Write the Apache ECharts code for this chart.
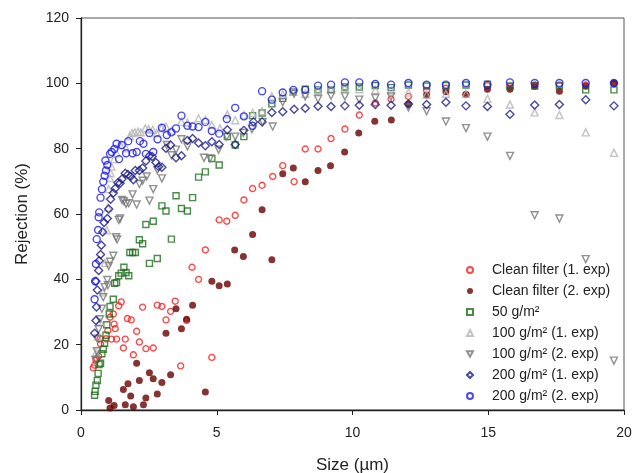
<!DOCTYPE html>
<html>
<head>
	<meta charset="utf-8">
	<script src="https://cdn.jsdelivr.net/npm/echarts@6/dist/echarts.min.js"></script>
	<title>Rejection</title>
	<style>
		html, body { margin: 0; padding: 0; background: #fff; }
		#c { width: 633px; height: 473px; }
	</style>
</head>
<body>
	<div id="c"></div>
	<script>
		// [size (um), rejection (%)]
		var cleanFilter1 = [[0.45,12.9],[0.50,13.7],[0.55,15.3],[0.58,15.8],[0.65,16.5],[0.70,21.8],[0.72,20.2],[0.92,21.8],[0.99,24.3],[1.07,28.4],[1.12,21.7],[1.19,29.4],[1.22,26.3],[1.26,24.9],[1.31,21.7],[1.39,31.9],[1.48,33.1],[1.56,19.0],[1.63,21.7],[1.71,28.0],[1.85,27.6],[1.93,16.9],[2.05,24.1],[2.15,20.8],[2.27,31.5],[2.39,18.8],[2.66,19.0],[2.81,32.1],[2.98,31.7],[3.13,27.6],[3.30,30.2],[3.47,33.3],[3.67,13.5],[3.89,27.4],[4.09,43.7],[4.33,40.0],[4.58,49.0],[4.82,16.1],[5.09,58.2],[5.37,57.8],[5.68,59.6],[6.00,64.3],[6.32,67.8],[6.67,68.8],[7.06,71.5],[7.43,74.8],[7.85,69.9],[8.26,79.9],[8.73,79.9],[9.21,83.1],[9.72,86.0],[10.25,90.3],[10.84,94.0],[11.42,95.2],[12.06,96.0],[12.73,97.8],[13.44,98.5],[14.18,96.6],[14.97,99.3],[15.80,99.0],[16.71,99.5],[17.62,99.5],[18.59,99.5],[19.63,99.8]];
		var cleanFilter2 = [[1.02,2.9],[1.07,0.6],[1.22,1.4],[1.56,6.3],[1.63,1.6],[1.73,8.0],[1.83,4.3],[1.93,1.0],[2.05,14.3],[2.15,9.0],[2.30,1.6],[2.39,3.7],[2.52,11.4],[2.66,9.6],[2.81,4.9],[2.98,8.4],[3.13,23.5],[3.30,10.8],[3.50,31.0],[3.70,24.9],[3.89,27.8],[4.11,32.1],[4.58,5.5],[4.82,39.4],[5.09,38.0],[5.39,38.6],[5.66,49.0],[5.98,47.0],[6.32,53.7],[6.67,61.3],[7.03,46.0],[7.43,72.3],[7.82,74.1],[8.26,69.9],[8.73,73.3],[9.19,74.8],[9.71,79.0],[10.23,84.8],[10.82,88.4],[11.43,88.8],[12.06,93.7],[12.73,96.4],[13.44,97.4],[14.18,96.6],[14.97,98.2],[15.80,98.2],[16.71,99.1],[17.62,97.6],[18.59,99.1],[19.63,100.1]];
		var load50 = [[0.50,4.5],[0.52,5.7],[0.55,7.6],[0.60,9.0],[0.63,11.2],[0.67,13.9],[0.72,14.3],[0.77,17.2],[0.82,18.6],[0.87,20.4],[0.92,22.9],[0.95,26.1],[1.04,29.4],[1.07,31.7],[1.19,33.9],[1.24,38.8],[1.31,39.0],[1.39,41.1],[1.48,41.9],[1.58,43.7],[1.66,42.1],[1.76,41.1],[1.80,48.2],[1.90,48.2],[2.00,48.2],[2.15,52.1],[2.27,50.9],[2.39,56.8],[2.52,44.9],[2.66,57.8],[2.81,46.4],[2.98,62.5],[3.13,60.9],[3.33,52.3],[3.50,65.6],[3.70,61.7],[3.92,60.9],[4.11,65.0],[4.33,71.3],[4.58,72.9],[4.82,77.0],[5.09,75.0],[5.39,83.7],[5.68,81.1],[6.00,83.7],[6.32,90.1],[6.67,90.9],[7.03,93.7],[7.43,95.4],[7.82,97.4],[8.26,98.2],[8.73,98.0],[9.21,98.0],[9.72,98.9],[10.25,98.9],[10.84,99.3],[11.42,98.7],[12.06,99.5],[12.73,99.2],[13.44,99.3],[14.18,99.5],[14.97,99.7],[15.80,99.2],[16.71,99.2],[17.62,99.2],[18.59,98.0],[19.63,98.0]];
		var load100a = [[0.55,17.5],[0.62,22.5],[0.70,27.0],[0.80,36.0],[0.88,45.0],[0.95,55.0],[0.99,62.0],[1.02,67.6],[1.07,71.0],[1.09,72.5],[1.12,74.5],[1.22,76.8],[1.31,78.6],[1.46,81.1],[1.66,80.1],[1.80,83.9],[1.88,84.8],[1.98,85.0],[2.10,85.2],[2.20,85.0],[2.37,86.2],[2.49,86.0],[2.64,85.8],[2.79,84.8],[2.96,86.2],[3.13,86.8],[3.33,85.5],[3.70,88.2],[3.92,88.0],[4.33,89.3],[4.58,88.8],[4.82,87.2],[5.12,86.2],[5.39,90.5],[5.68,88.7],[6.00,90.3],[6.32,90.9],[6.67,91.5],[7.03,96.0],[7.43,96.6],[7.82,97.4],[8.26,96.8],[8.73,97.6],[9.21,98.0],[9.72,98.5],[10.25,98.2],[10.84,98.0],[11.42,97.8],[12.06,97.2],[12.73,96.5],[13.44,96.8],[14.18,96.8],[14.97,95.3],[15.80,93.5],[16.71,91.1],[17.62,90.3],[18.59,85.0],[19.63,78.7]];
		var load100b = [[0.53,15.3],[0.58,18.0],[0.60,21.8],[0.65,24.7],[0.70,27.8],[0.77,31.0],[0.82,34.5],[0.87,37.6],[0.97,39.8],[0.99,38.2],[1.02,44.1],[1.07,45.4],[1.19,47.2],[1.29,52.9],[1.33,52.2],[1.39,58.2],[1.44,58.6],[1.51,64.3],[1.58,63.9],[1.66,63.1],[1.76,63.3],[1.90,66.0],[2.05,62.9],[2.15,69.2],[2.27,70.2],[2.42,71.5],[2.52,64.1],[2.66,67.6],[2.81,73.5],[2.98,70.9],[3.16,81.1],[3.33,78.0],[3.50,79.7],[3.70,82.9],[3.92,80.7],[4.53,77.2],[4.75,77.0],[5.07,79.7],[5.37,83.7],[5.68,83.7],[5.98,84.8],[6.30,86.0],[6.69,88.2],[7.06,86.8],[7.43,94.2],[7.85,96.8],[8.26,96.0],[8.73,95.2],[9.21,96.2],[9.72,96.0],[10.25,95.0],[10.84,95.5],[11.42,96.0],[12.06,92.6],[12.73,91.5],[13.44,88.3],[14.18,86.3],[14.97,83.7],[15.80,77.8],[16.71,59.6],[17.62,58.6],[18.59,46.2],[19.63,15.1]];
		var load200a = [[0.50,23.5],[0.55,27.4],[0.57,31.5],[0.60,36.7],[0.55,39.4],[0.65,42.7],[0.67,45.7],[0.72,47.6],[0.75,50.4],[0.80,54.5],[0.85,57.4],[0.97,58.6],[1.02,61.5],[1.09,64.5],[1.19,66.4],[1.26,67.8],[1.36,69.6],[1.44,69.4],[1.51,70.7],[1.63,72.5],[1.73,72.1],[1.83,71.5],[1.93,70.5],[2.00,73.3],[2.15,73.3],[2.27,74.1],[2.39,76.2],[2.52,77.8],[2.62,77.6],[2.76,75.8],[2.86,74.5],[2.98,74.3],[3.13,80.1],[3.30,81.1],[3.50,77.2],[3.70,77.8],[3.92,82.5],[4.11,83.1],[4.33,81.7],[4.58,80.9],[4.82,82.1],[5.09,81.3],[5.39,85.8],[5.68,81.3],[6.00,85.6],[6.35,88.2],[6.67,88.2],[7.03,91.1],[7.43,91.3],[7.85,92.1],[8.26,92.4],[8.73,93.0],[9.21,92.9],[9.72,93.1],[10.25,93.3],[10.84,93.5],[11.42,93.3],[12.06,93.7],[12.73,93.5],[13.44,94.2],[14.18,93.1],[14.97,92.9],[15.80,90.5],[16.71,93.4],[17.62,93.5],[18.59,95.0],[19.63,93.1]];
		var load200b = [[0.50,33.9],[0.52,39.4],[0.55,44.7],[0.58,52.3],[0.63,55.1],[0.65,59.0],[0.67,60.5],[0.72,65.0],[0.77,67.6],[0.82,69.9],[0.87,71.7],[0.92,73.3],[0.90,76.4],[0.97,75.0],[1.07,78.4],[1.13,79.0],[1.23,79.9],[1.31,81.5],[1.40,76.8],[1.50,81.1],[1.66,78.6],[1.74,82.3],[1.90,78.6],[2.05,79.0],[2.17,82.3],[2.30,81.5],[2.39,78.4],[2.52,84.8],[2.66,79.0],[2.82,82.9],[2.98,86.4],[3.16,84.2],[3.33,85.0],[3.50,86.2],[3.70,90.1],[3.92,87.0],[4.11,86.8],[4.33,86.6],[4.58,88.2],[4.82,85.4],[5.09,84.6],[5.37,89.1],[5.68,92.5],[6.00,89.9],[6.32,87.0],[6.67,97.6],[7.03,95.0],[7.43,97.2],[7.82,98.0],[8.26,98.0],[8.73,99.3],[9.21,99.6],[9.72,100.3],[10.25,100.3],[10.84,99.8],[11.42,99.6],[12.06,100.1],[12.73,99.6],[13.44,99.6],[14.18,100.1],[14.97,99.6],[15.80,100.3],[16.71,100.1],[17.62,100.1],[18.59,100.1],[19.63,100.1]];

		var names = ['Clean filter (1. exp)', 'Clean filter (2. exp)', '50 g/m²', '100 g/m² (1. exp)', '100 g/m² (2. exp)', '200 g/m² (1. exp)', '200 g/m² (2. exp)'];
		var xTicks = [0, 5, 10, 15, 20];
		var yTicks = [0, 20, 40, 60, 80, 100, 120];

		var downTriangle = 'path://M0,0 L10,0 L5,9 Z';

		function open(name, data, color, symbol, size) {
			return {
				name: name, type: 'scatter', data: data,
				symbol: symbol, symbolSize: size,
				itemStyle: { color: 'rgba(255,255,255,0)', borderColor: color, borderWidth: 1.4 },
				emphasis: { disabled: true }
			};
		}

		var series = [
			open(names[0], cleanFilter1, '#ff1a1a', 'circle', 6),
			{ name: names[1], type: 'scatter', data: cleanFilter2, symbol: 'circle', symbolSize: 7,
			  itemStyle: { color: '#680000' }, emphasis: { disabled: true } },
			open(names[2], load50, '#1b6e1b', 'rect', 6),
			open(names[3], load100a, '#b4b4b4', 'triangle', 7),
			open(names[4], load100b, '#757575', downTriangle, 7),
			open(names[5], load200a, '#1c1c84', 'diamond', 8),
			open(names[6], load200b, '#1a1aee', 'circle', 7)
		];

		var chart = echarts.init(document.getElementById('c'));
		chart.setOption({
			animation: false,
			textStyle: { fontFamily: 'Liberation Sans' },
			grid: { left: 81, right: 9, top: 18, bottom: 63, show: true, borderColor: '#555', borderWidth: 1,
				outerBoundsMode: 'none', containLabel: false },
			legend: {
				data: names, orient: 'vertical', left: 461, top: 258,
				itemWidth: 6, itemHeight: 6, itemGap: 7,
				textStyle: { fontSize: 14, color: '#222', fontFamily: 'Liberation Sans', padding: [0, 0, 0, 14] }
			},
			xAxis: {
				type: 'value', min: xTicks[0], max: xTicks[xTicks.length - 1], interval: 5,
				name: 'Size (µm)', nameLocation: 'middle', nameGap: 47,
				nameTextStyle: { fontSize: 17, color: '#222' },
				axisLine: { lineStyle: { color: '#222', width: 1.3 } },
				axisTick: { length: 5, lineStyle: { color: '#222' } },
				axisLabel: { fontSize: 14, color: '#222', margin: 16 },
				splitLine: { show: false }
			},
			yAxis: {
				type: 'value', min: yTicks[0], max: yTicks[yTicks.length - 1], interval: 20,
				name: 'Rejection (%)', nameLocation: 'middle', nameGap: 50,
				nameTextStyle: { fontSize: 17, color: '#222' },
				axisLine: { show: true, lineStyle: { color: '#222', width: 1.3 } },
				axisTick: { show: true, length: 5, lineStyle: { color: '#222' } },
				axisLabel: { fontSize: 14, color: '#222', margin: 12 },
				splitLine: { show: false }
			},
			series: series
		});
	</script>
</body>
</html>
